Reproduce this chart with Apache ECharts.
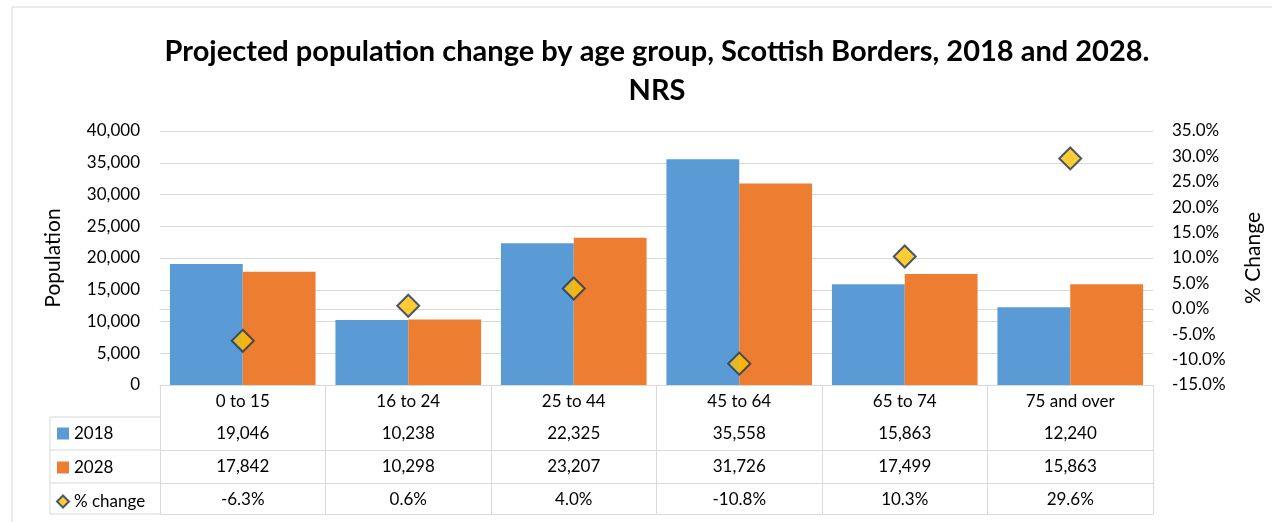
<!DOCTYPE html>
<html>
<head>
<meta charset="utf-8">
<script src="https://cdn.jsdelivr.net/npm/echarts@6/dist/echarts.min.js"></script>
<style>html,body{margin:0;padding:0;background:#fff}#c{width:1272px;height:522px}</style>
</head>
<body>
<div id="c"></div>
<script>
const categories = ['0 to 15', '16 to 24', '25 to 44', '45 to 64', '65 to 74', '75 and over'];
const pop2018 = [19046, 10238, 22325, 35558, 15863, 12240];
const pop2028 = [17842, 10298, 23207, 31726, 17499, 15863];
const pctChange = [-6.3, 0.6, 4.0, -10.8, 10.3, 29.6];
const seriesNames = ['2018', '2028', '% change'];

const FONT = 'Lato, "Open Sans", sans-serif';
const GRID = '#d9d9d9';
const fmtNum = v => v.toLocaleString('en-US');
const fmtPct = v => v.toFixed(1) + '%';

function tableAxis(data, offset, tickLen, showLabel) {
  return {
    type: 'category', position: 'bottom', data: data, offset: offset,
    boundaryGap: true,
    axisLine: { show: true, lineStyle: { color: GRID, width: 1 } },
    axisTick: { show: tickLen > 0, interval: 0, length: tickLen, lineStyle: { color: GRID, width: 1 } },
    axisLabel: { show: showLabel, interval: 0, margin: 8, color: '#000', fontFamily: FONT, fontSize: 17 },
    splitLine: { show: false }
  };
}

const chart = echarts.init(document.getElementById('c'));
chart.setOption({
  animation: false,
  backgroundColor: '#fff',
  title: {
    text: 'Projected population change by age group, Scottish Borders, 2018 and 2028.\nNRS',
    left: 652, top: 27, textAlign: 'center',
    textStyle: { fontFamily: FONT, fontWeight: 'bold', fontSize: 29, lineHeight: 39, color: '#000' }
  },
  grid: { left: 160, right: 116, top: 131, bottom: 137, containLabel: false },
  legend: {
    orient: 'vertical', left: 51, top: 420, itemGap: 17, itemWidth: 12, itemHeight: 12,
    data: [
      { name: '2018', icon: 'rect' },
      { name: '2028', icon: 'rect' },
      { name: '% change', icon: 'diamond' }
    ],
    textStyle: { fontFamily: FONT, fontSize: 17, color: '#000' },
    selectedMode: false
  },
  xAxis: [
    tableAxis(categories, 0, 129, true),
    tableAxis(pop2018.map(fmtNum), 32, 0, true),
    tableAxis(pop2028.map(fmtNum), 65, 0, true),
    tableAxis(pctChange.map(fmtPct), 98, 0, true),
    tableAxis(categories, 129, 0, false)
  ],
  yAxis: [
    {
      type: 'value', min: 0, max: 40000, interval: 5000,
      name: 'Population', nameLocation: 'middle', nameGap: 96, nameRotate: 90,
      nameTextStyle: { fontFamily: FONT, fontSize: 21, color: '#000' },
      axisLine: { show: false }, axisTick: { show: false },
      axisLabel: { formatter: v => fmtNum(v), margin: 20, color: '#000', fontFamily: FONT, fontSize: 17 },
      splitLine: { show: true, lineStyle: { color: GRID, width: 1 } }
    },
    {
      type: 'value', min: -15, max: 35, interval: 5, position: 'right',
      name: '% Change', nameLocation: 'middle', nameGap: 90, nameRotate: 90,
      nameTextStyle: { fontFamily: FONT, fontSize: 21, color: '#000' },
      axisLine: { show: false }, axisTick: { show: false },
      axisLabel: { formatter: v => fmtPct(v), margin: 19, color: '#000', fontFamily: FONT, fontSize: 17 },
      splitLine: { show: false }
    }
  ],
  series: [
    {
      name: seriesNames[0], type: 'bar', data: pop2018, xAxisIndex: 0, yAxisIndex: 0,
      barGap: '0%', barCategoryGap: '12%',
      itemStyle: { color: '#5b9bd5' }
    },
    {
      name: seriesNames[1], type: 'bar', data: pop2028, xAxisIndex: 0, yAxisIndex: 0,
      barGap: '0%', barCategoryGap: '12%',
      itemStyle: { color: '#ed7d31' }
    },
    {
      name: seriesNames[2], type: 'scatter', data: pctChange, xAxisIndex: 0, yAxisIndex: 1,
      symbol: 'diamond', symbolSize: [22, 22], z: 5,
      itemStyle: { color: '#ffc000', borderColor: '#1a3263', borderWidth: 2 }
    }
  ],
  graphic: [
    { type: 'rect', shape: { x: 12, y: 7, width: 1300, height: 600 }, style: { fill: 'none', stroke: GRID, lineWidth: 1 }, silent: true },
    { type: 'line', shape: { x1: 50, y1: 417, x2: 50, y2: 514 }, style: { stroke: GRID, lineWidth: 1 } },
    { type: 'line', shape: { x1: 50, y1: 417, x2: 160, y2: 417 }, style: { stroke: GRID, lineWidth: 1 } },
    { type: 'line', shape: { x1: 50, y1: 450, x2: 160, y2: 450 }, style: { stroke: GRID, lineWidth: 1 } },
    { type: 'line', shape: { x1: 50, y1: 483, x2: 160, y2: 483 }, style: { stroke: GRID, lineWidth: 1 } },
    { type: 'line', shape: { x1: 50, y1: 514, x2: 160, y2: 514 }, style: { stroke: GRID, lineWidth: 1 } }
  ]
});
</script>
</body>
</html>
